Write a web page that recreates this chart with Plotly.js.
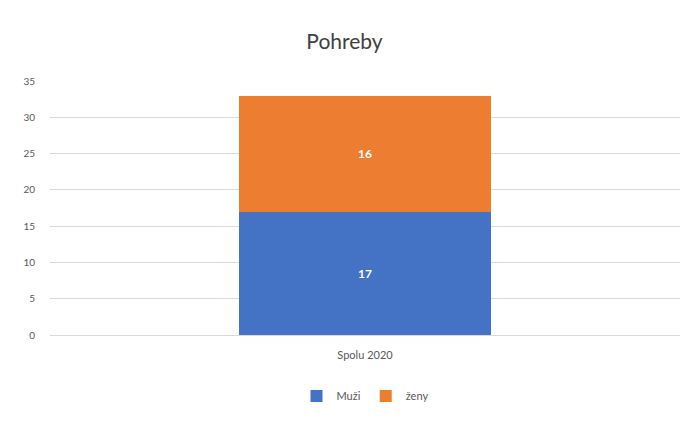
<!DOCTYPE html>
<html>
<head>
<meta charset="utf-8">
<script src="https://cdn.plot.ly/plotly-3.0.1.min.js"></script>
<style>html,body{margin:0;padding:0;background:#fff;}#chart{width:689px;height:421px;}</style>
</head>
<body>
<div id="chart"></div>
<script>
const categories = ["Spolu 2020"];
const muzi = [17];
const zeny = [16];
const seriesNames = ["Muži", "ženy"];
const yTicks = [0, 5, 10, 15, 20, 25, 30, 35];

const font = "Lato, 'Open Sans', sans-serif";
const traces = [
  {type: "bar", name: seriesNames[0], x: categories, y: muzi, marker: {color: "#4472C4"},
   text: muzi.map(String), textposition: "inside", insidetextanchor: "middle",
   textfont: {color: "#ffffff", size: 12, family: font, weight: "bold"}, width: 0.4},
  {type: "bar", name: seriesNames[1], x: categories, y: zeny, marker: {color: "#ED7D31"},
   text: zeny.map(String), textposition: "inside", insidetextanchor: "middle",
   textfont: {color: "#ffffff", size: 12, family: font, weight: "bold"}, width: 0.4}
];
const layout = {
  width: 689, height: 421,
  barmode: "stack",
  paper_bgcolor: "#ffffff", plot_bgcolor: "#ffffff",
  margin: {l: 50, r: 9, t: 81, b: 86},
  title: {text: "Pohreby", x: 0.5, xanchor: "center", y: 0.9, yanchor: "middle",
          font: {family: font, size: 21, color: "#404040"}},
  font: {family: font, color: "#595959", size: 11},
  showlegend: true,
  legend: {orientation: "h", x: 0.5, xanchor: "center", y: -0.24, yanchor: "middle",
           font: {family: font, size: 11, color: "#595959"}, itemwidth: 30, traceorder: "normal"},
  xaxis: {showline: true, linecolor: "#d9d9d9", ticks: "", ticklabelstandoff: 10,
          tickfont: {size: 11, color: "#595959"}},
  yaxis: {range: [0, 35], tickvals: yTicks, showgrid: true, gridcolor: "#d9d9d9", gridwidth: 1,
          zeroline: false, ticks: "", ticklabelstandoff: 14, tickfont: {size: 10, color: "#595959"}}
};
Plotly.newPlot("chart", traces, layout, {displayModeBar: false});
</script>
</body>
</html>
